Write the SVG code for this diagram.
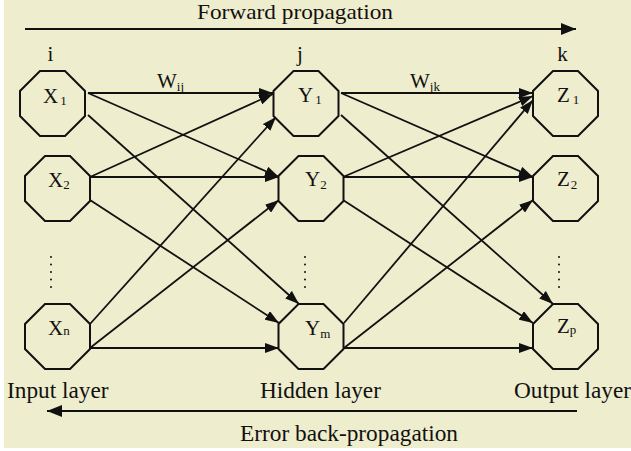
<svg xmlns="http://www.w3.org/2000/svg" width="631" height="451" viewBox="0 0 631 451">
<style>
.bg{fill:#EEEDCD}
.oct{fill:#EEEDCD;stroke:#111;stroke-width:2}
.t{font-family:"Liberation Serif","Times New Roman",serif;fill:#111}
.lbl{font-size:23.3px}
.nl{font-size:21px}
.sub{font-size:13px}
.c{stroke:#111;stroke-width:1.8;fill:none;marker-end:url(#ah)}
.big{stroke:#111;stroke-width:1.8;fill:none;marker-end:url(#bh)}
.dots{stroke:#111;stroke-width:2;stroke-linecap:round;stroke-dasharray:0 7.5}
</style>
<defs>
<marker id="ah" markerUnits="userSpaceOnUse" markerWidth="14" markerHeight="10" refX="14" refY="5" orient="auto">
<path d="M0,0 L14,5 L0,10 z" fill="#111"/>
</marker>
<marker id="bh" markerUnits="userSpaceOnUse" markerWidth="15" markerHeight="12" refX="15" refY="6" orient="auto">
<path d="M0,0 L15,6 L0,12 z" fill="#111"/>
</marker>
</defs>
<rect class="bg" x="4" y="0" width="627" height="448"/>

<g id="flow">
<line class="big" x1="25" y1="29" x2="576" y2="29"/>
<text class="t" font-size="21" x="197" y="19" textLength="196" lengthAdjust="spacingAndGlyphs">Forward propagation</text>
<line class="big" x1="577" y1="411" x2="47" y2="411"/>
<text class="t lbl" x="240" y="441">Error back-propagation</text>
</g>

<g id="layer-labels">
<text class="t nl" x="50.5" y="61" text-anchor="middle">i</text>
<text class="t nl" x="300" y="61" text-anchor="middle">j</text>
<text class="t nl" x="562.5" y="61" text-anchor="middle">k</text>
<text class="t lbl" x="7" y="398">Input layer</text>
<text class="t lbl" x="260" y="398">Hidden layer</text>
<text class="t lbl" x="514" y="398">Output layer</text>
<text class="t nl" x="157" y="88">W<tspan class="sub" dy="3">ij</tspan></text>
<text class="t nl" x="410" y="88">W<tspan class="sub" dy="3">jk</tspan></text>
</g>

<g id="connectors">
<line class="c" x1="88" y1="93" x2="273" y2="93"/>
<line class="c" x1="88" y1="93" x2="279" y2="177"/>
<line class="c" x1="88" y1="115" x2="299" y2="304"/>
<line class="c" x1="90" y1="177" x2="273" y2="94"/>
<line class="c" x1="90" y1="177" x2="279" y2="177"/>
<line class="c" x1="90" y1="200" x2="279" y2="323"/>
<line class="c" x1="90" y1="324" x2="276" y2="117"/>
<line class="c" x1="90" y1="348" x2="279" y2="200"/>
<line class="c" x1="90" y1="348" x2="279" y2="348"/>
<line class="c" x1="341" y1="93" x2="533" y2="93"/>
<line class="c" x1="341" y1="93" x2="533" y2="177"/>
<line class="c" x1="341" y1="115" x2="553" y2="304"/>
<line class="c" x1="343" y1="177" x2="533" y2="96"/>
<line class="c" x1="343" y1="177" x2="533" y2="177"/>
<line class="c" x1="343" y1="200" x2="533" y2="323"/>
<line class="c" x1="344" y1="323" x2="533" y2="100"/>
<line class="c" x1="344" y1="348" x2="533" y2="200"/>
<line class="c" x1="344" y1="348" x2="533" y2="348"/>
</g>

<g id="dots">
<line class="dots" x1="51" y1="257" x2="51" y2="288"/>
<line class="dots" x1="305" y1="257" x2="305" y2="288"/>
<line class="dots" x1="559" y1="257" x2="559" y2="288"/>
</g>

<g id="X1">
<polygon class="oct" points="40,71 65,71 85,91 85,116 65,136 40,136 20,116 20,91"/>
<text class="t nl" x="43" y="103">X<tspan class="sub" dx="2" dy="2">1</tspan></text>
</g>
<g id="X2">
<polygon class="oct" points="45,156 70,156 90,176 90,201 70,221 45,221 25,201 25,176"/>
<text class="t nl" x="48" y="187">X<tspan class="sub" dy="2">2</tspan></text>
</g>
<g id="Xn">
<polygon class="oct" points="45,304 70,304 90,324 90,349 70,369 45,369 25,349 25,324"/>
<text class="t nl" x="48" y="335">X<tspan class="sub">n</tspan></text>
</g>
<g id="Y1">
<polygon class="oct" points="293.5,71 318.5,71 338.5,91 338.5,116 318.5,136 293.5,136 273.5,116 273.5,91"/>
<text class="t nl" x="298" y="102">Y<tspan class="sub" dx="2" dy="2">1</tspan></text>
</g>
<g id="Y2">
<polygon class="oct" points="298.5,156 323.5,156 343.5,176 343.5,201 323.5,221 298.5,221 278.5,201 278.5,176"/>
<text class="t nl" x="305" y="186">Y<tspan class="sub" dy="3">2</tspan></text>
</g>
<g id="Ym">
<polygon class="oct" points="298.5,304 323.5,304 343.5,324 343.5,349 323.5,369 298.5,369 278.5,349 278.5,324"/>
<text class="t nl" x="305" y="335">Y<tspan class="sub" dy="3">m</tspan></text>
</g>
<g id="Z1">
<polygon class="oct" points="553,71 578,71 598,91 598,116 578,136 553,136 533,116 533,91"/>
<text class="t nl" x="557" y="102">Z<tspan class="sub" dx="3" dy="2">1</tspan></text>
</g>
<g id="Z2">
<polygon class="oct" points="553,156 578,156 598,176 598,201 578,221 553,221 533,201 533,176"/>
<text class="t nl" x="557" y="186">Z<tspan class="sub" dx="1" dy="3">2</tspan></text>
</g>
<g id="Zp">
<polygon class="oct" points="553,304 578,304 598,324 598,349 578,369 553,369 533,349 533,324"/>
<text class="t nl" x="557" y="333">Z<tspan class="sub" dy="1">p</tspan></text>
</g>
</svg>
